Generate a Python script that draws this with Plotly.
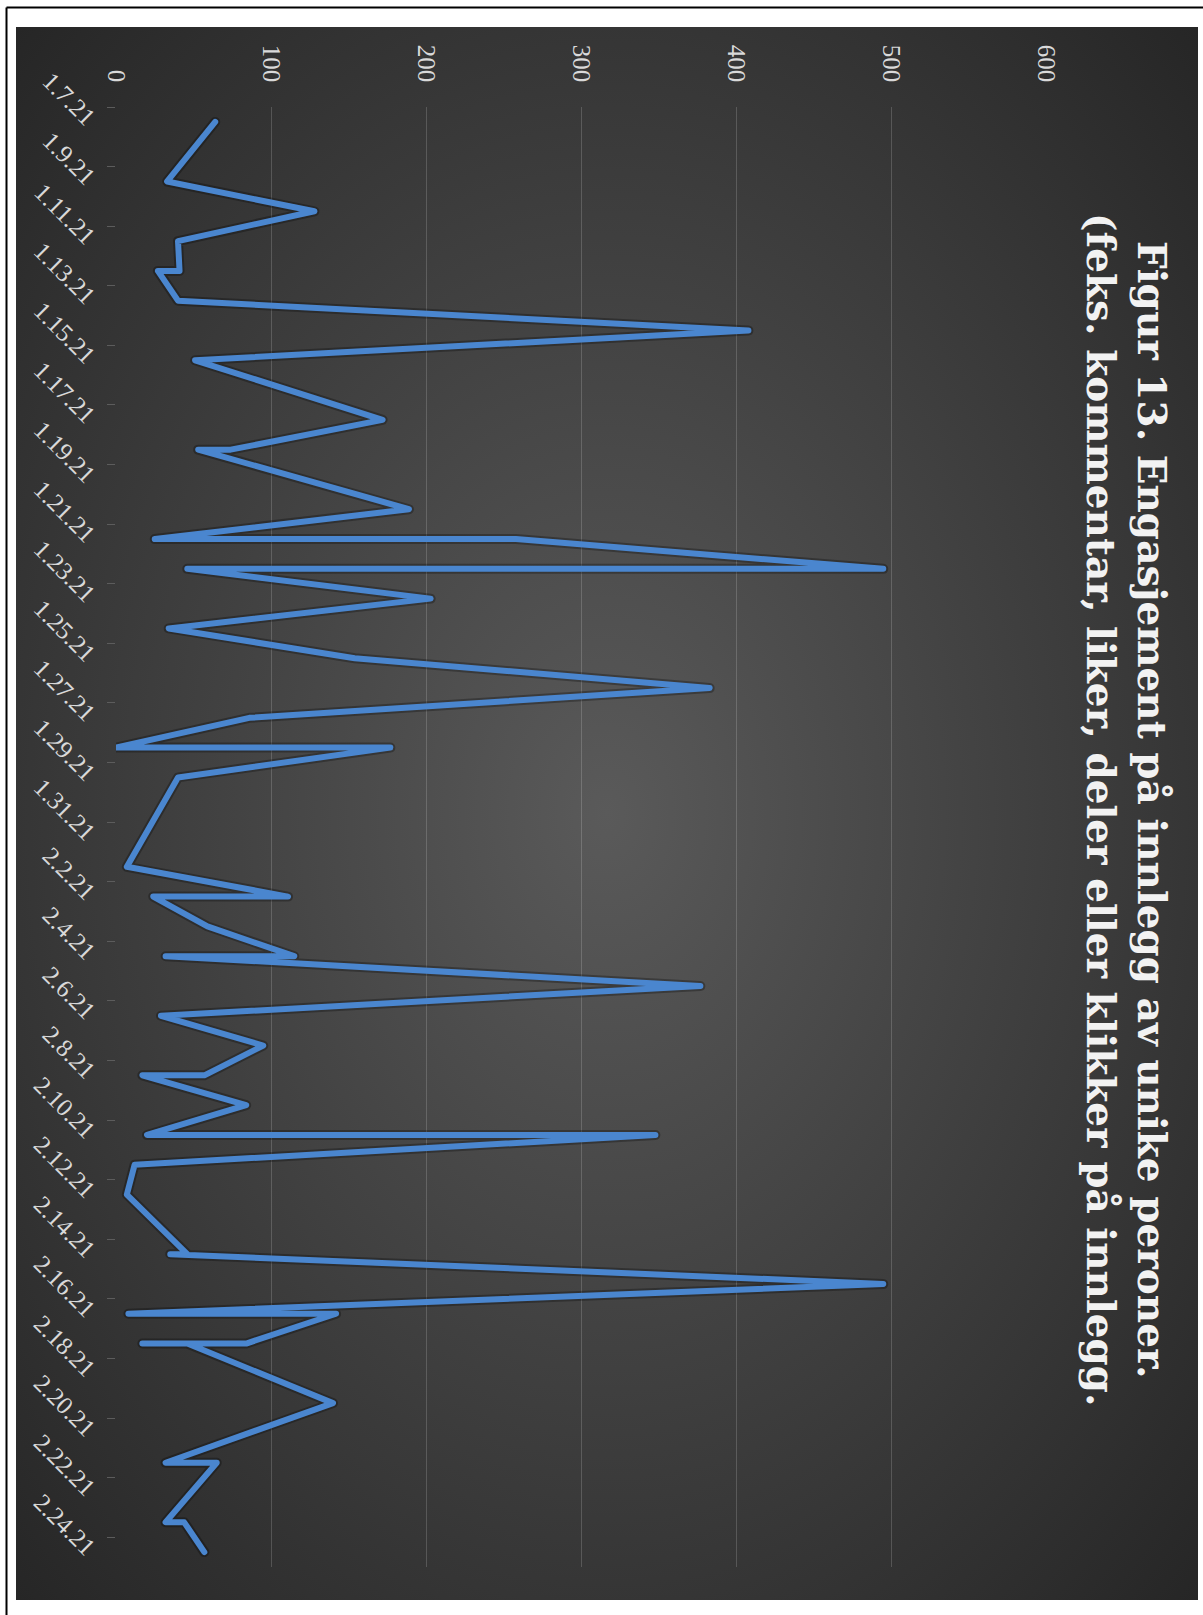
import base64
import pandas as pd
import plotly.graph_objects as go

# One entry per post; days with several posts repeat the date
post_dates = [
    "2021-01-07", "2021-01-09", "2021-01-10", "2021-01-11", "2021-01-12",
    "2021-01-12", "2021-01-13", "2021-01-14", "2021-01-15", "2021-01-17",
    "2021-01-18", "2021-01-18", "2021-01-20", "2021-01-21", "2021-01-21",
    "2021-01-22", "2021-01-22", "2021-01-23", "2021-01-24", "2021-01-25",
    "2021-01-26", "2021-01-27", "2021-01-28", "2021-01-28", "2021-01-29",
    "2021-02-01", "2021-02-02", "2021-02-02", "2021-02-03", "2021-02-04",
    "2021-02-04", "2021-02-05", "2021-02-06", "2021-02-07", "2021-02-08",
    "2021-02-08", "2021-02-09", "2021-02-10", "2021-02-10", "2021-02-11",
    "2021-02-12", "2021-02-14", "2021-02-14", "2021-02-15", "2021-02-16",
    "2021-02-16", "2021-02-17", "2021-02-17", "2021-02-17", "2021-02-19",
    "2021-02-21", "2021-02-21", "2021-02-23", "2021-02-23", "2021-02-24",
]
engagement = [
    64, 33, 128, 40, 41,
    27, 40, 408, 51, 172,
    74, 53, 189, 25, 258,
    495, 46, 203, 34, 154,
    383, 86, 0, 177, 40,
    7, 111, 24, 59, 115,
    32, 377, 29, 95, 57,
    17, 84, 20, 348, 12,
    7, 46, 35, 495, 8,
    142, 84, 17, 46, 140,
    32, 65, 32, 44, 57,
]

# Date axis labels (every second day)
label_dates = [
    "2021-01-07", "2021-01-09", "2021-01-11", "2021-01-13", "2021-01-15",
    "2021-01-17", "2021-01-19", "2021-01-21", "2021-01-23", "2021-01-25",
    "2021-01-27", "2021-01-29", "2021-01-31", "2021-02-02", "2021-02-04",
    "2021-02-06", "2021-02-08", "2021-02-10", "2021-02-12", "2021-02-14",
    "2021-02-16", "2021-02-18", "2021-02-20", "2021-02-22", "2021-02-24",
]
label_text = [
    "1.7.21", "1.9.21", "1.11.21", "1.13.21", "1.15.21",
    "1.17.21", "1.19.21", "1.21.21", "1.23.21", "1.25.21",
    "1.27.21", "1.29.21", "1.31.21", "2.2.21", "2.4.21",
    "2.6.21", "2.8.21", "2.10.21", "2.12.21", "2.14.21",
    "2.16.21", "2.18.21", "2.20.21", "2.22.21", "2.24.21",
]
value_ticks = [0, 100, 200, 300, 400, 500, 600]

title_lines = [
    "Figur 13. Engasjement på innlegg av unike peroner.",
    "(feks. kommentar, liker, deler eller klikker på innlegg.",
]

# ---- page geometry (pixels) ----
W, H = 1203, 1615
PL, PR, PT, PB = 116, 1046, 107, 1567   # plot area
BG = (16, 27, 1198, 1600)                # dark chart area


def px_x(x):
    return (x - PL) / (PR - PL)


def px_y(y):
    return (PB - y) / (PB - PT)


# tick marks sit between the days, every second day
boundaries = pd.date_range("2021-01-06 12:00", periods=25, freq="2D")

TICK_FONT = dict(family="Liberation Serif", size=25, color="#d9d9d9")
LINE_BLUE = "#4a86cf"

fig = go.Figure()

# soft dark halo under the series
fig.add_trace(go.Scatter(
    x=engagement, y=post_dates, mode="lines",
    line=dict(color="rgba(0,0,0,0.28)", width=10),
    hoverinfo="skip", showlegend=False,
))
fig.add_trace(go.Scatter(
    x=engagement, y=post_dates, mode="lines",
    line=dict(color=LINE_BLUE, width=6),
    showlegend=False,
))

# radial gradient background of the chart area
bw, bh = BG[2] - BG[0], BG[3] - BG[1]
svg = (
    f'<svg xmlns="http://www.w3.org/2000/svg" width="{bw}" height="{bh}" '
    f'viewBox="0 0 {bw} {bh}" preserveAspectRatio="none">'
    '<defs><radialGradient id="g" cx="0.5" cy="0.5" r="0.72">'
    '<stop offset="0" stop-color="#5a5a5a"/>'
    '<stop offset="1" stop-color="#252525"/>'
    '</radialGradient></defs>'
    f'<rect width="{bw}" height="{bh}" fill="url(#g)"/></svg>'
)
bg_src = "data:image/svg+xml;base64," + base64.b64encode(svg.encode()).decode()

fig.add_layout_image(dict(
    source=bg_src, xref="paper", yref="paper",
    x=px_x(BG[0]), y=px_y(BG[1]),
    sizex=(BG[2] - BG[0]) / (PR - PL), sizey=(BG[3] - BG[1]) / (PB - PT),
    xanchor="left", yanchor="top", sizing="stretch", layer="below",
))

# page frame (left and top edges)
fig.add_shape(type="line", xref="paper", yref="paper",
              x0=px_x(6.5), x1=px_x(6.5), y0=px_y(7.5), y1=px_y(H + 5),
              line=dict(color="black", width=2))
fig.add_shape(type="line", xref="paper", yref="paper",
              x0=px_x(6.5), x1=px_x(W + 5), y0=px_y(7.5), y1=px_y(7.5),
              line=dict(color="black", width=2))

# rotated title
fig.add_annotation(
    text="<b>" + "<br>".join(title_lines) + "</b>",
    xref="paper", yref="paper", x=px_x(1127), y=px_y(810),
    xanchor="center", yanchor="middle", textangle=90, showarrow=False,
    font=dict(family="DejaVu Serif", size=39, color="#f2f2f2"),
)

fig.update_layout(
    width=W, height=H, autosize=False,
    margin=dict(l=PL, r=W - PR, t=PT, b=H - PB, pad=0),
    paper_bgcolor="white", plot_bgcolor="rgba(0,0,0,0)",
    showlegend=False,
    xaxis=dict(
        range=[0, 600], side="top", tickmode="array", tickvals=value_ticks,
        tickangle=90, tickfont=TICK_FONT, ticks="", ticklabelstandoff=20,
        showgrid=True, gridcolor="rgba(255,255,255,0.17)", gridwidth=1,
        zeroline=False, showline=False, fixedrange=True,
    ),
    yaxis=dict(
        type="date",
        range=["2021-02-24 12:00", "2021-01-06 12:00"],
        tickmode="array", tickvals=label_dates, ticktext=label_text,
        tickangle=45, tickfont=TICK_FONT, ticks="", ticklabelstandoff=21,
        showgrid=False, zeroline=False, showline=False, fixedrange=True,
        minor=dict(tickmode="array", tickvals=list(boundaries), ticks="outside",
                   ticklen=8, tickwidth=1, tickcolor="#5c5c5c", showgrid=False),
    ),
)

round_joins = (
    "document.querySelectorAll('.scatterlayer .js-line').forEach(function(p){"
    "p.style.strokeLinejoin='round';p.style.strokeLinecap='round';});"
)
fig.write_html("out.html", post_script=round_joins)
